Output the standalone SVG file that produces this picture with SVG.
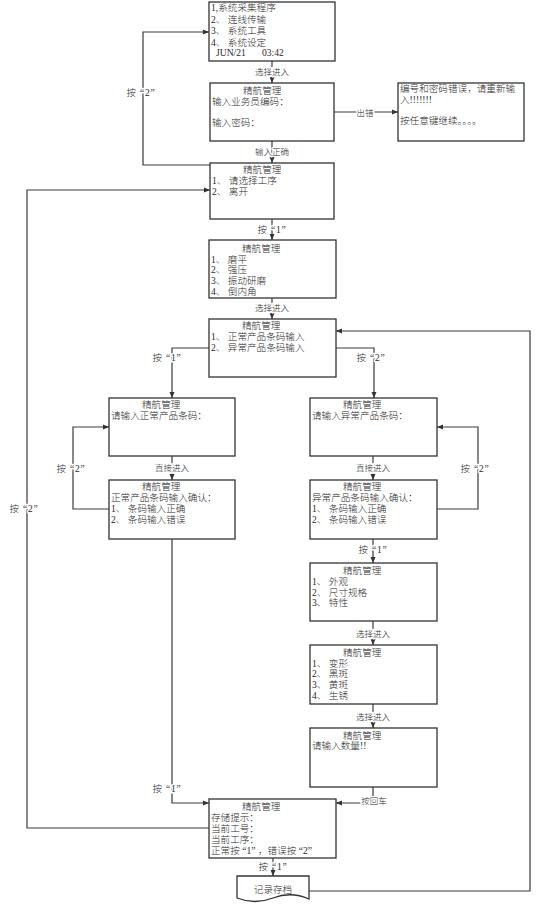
<svg xmlns="http://www.w3.org/2000/svg" width="553" height="908" viewBox="0 0 553 908">
<style>
.box{fill:#fff;stroke:#333;stroke-width:1.3}
.t{font-family:"Liberation Serif","Noto Sans CJK SC",serif;font-size:9.6px;font-weight:300;fill:#2a2a2a}
.ln{fill:none;stroke:#3a3a3a;stroke-width:1.2}
.lbl{font-family:"Liberation Serif","Noto Sans CJK SC",serif;font-size:8.5px;font-weight:300;fill:#2a2a2a;text-anchor:middle;stroke:#fff;stroke-width:3;paint-order:stroke;stroke-linejoin:round}
.k{font-size:9.5px;letter-spacing:0.8px}
</style>
<defs>
<marker id="ah" markerWidth="6" markerHeight="6" refX="6" refY="3" orient="auto" markerUnits="userSpaceOnUse"><path d="M0,0.5 L6,3 L0,5.5 z" fill="#333"/></marker>
</defs>
<rect width="553" height="908" fill="#fff"/>

<g id="connectors">
<path class="ln" d="M272,61 V83" marker-end="url(#ah)"/>
<text class="lbl" x="272" y="74.5">选择进入</text>
<path class="ln" d="M334,112 H398" marker-end="url(#ah)"/>
<text class="lbl" x="365" y="115.5">出错</text>
<path class="ln" d="M272,141 V163" marker-end="url(#ah)"/>
<text class="lbl" x="272" y="154.5">输入正确</text>
<path class="ln" d="M210,165 H143 V32 H209" marker-end="url(#ah)"/>
<text class="lbl k" x="141" y="96">按 “2”</text>
<path class="ln" d="M272,219 V240" marker-end="url(#ah)"/>
<text class="lbl k" x="272" y="232.5">按 “1”</text>
<path class="ln" d="M272,298 V319" marker-end="url(#ah)"/>
<text class="lbl" x="272" y="311">选择进入</text>
<path class="ln" d="M209,348 H172 V398" marker-end="url(#ah)"/>
<text class="lbl k" x="167" y="360.5">按 “1”</text>
<path class="ln" d="M336,348 H374 V398" marker-end="url(#ah)"/>
<text class="lbl k" x="371" y="360.5">按 “2”</text>
<path class="ln" d="M172,456 V480" marker-end="url(#ah)"/>
<text class="lbl" x="172" y="470.5">直接进入</text>
<path class="ln" d="M109,509 H73 V427 H109" marker-end="url(#ah)"/>
<text class="lbl k" x="71" y="471.5">按 “2”</text>
<path class="ln" d="M373,456 V480" marker-end="url(#ah)"/>
<text class="lbl" x="373" y="470.5">直接进入</text>
<path class="ln" d="M437,509 H478 V427 H437" marker-end="url(#ah)"/>
<text class="lbl k" x="475" y="471.5">按 “2”</text>
<path class="ln" d="M373,539 V563" marker-end="url(#ah)"/>
<text class="lbl k" x="373" y="552.5">按 “1”</text>
<path class="ln" d="M373,621 V645" marker-end="url(#ah)"/>
<text class="lbl" x="373" y="636.5">选择进入</text>
<path class="ln" d="M373,704 V728" marker-end="url(#ah)"/>
<text class="lbl" x="373" y="719.5">选择进入</text>
<path class="ln" d="M373,787 V803 H336" marker-end="url(#ah)"/>
<text class="lbl" x="374" y="803.5">按回车</text>
<path class="ln" d="M172,539 V803 H209" marker-end="url(#ah)"/>
<text class="lbl k" x="167" y="791.5">按 “1”</text>
<path class="ln" d="M209,828 H27 V190 H210" marker-end="url(#ah)"/>
<text class="lbl k" x="24" y="512">按 “2”</text>
<path class="ln" d="M273,858 V876" marker-end="url(#ah)"/>
<text class="lbl k" x="273" y="869.5">按 “1”</text>
<path class="ln" d="M309,891 H530 V331 H336" marker-end="url(#ah)"/>
</g>

<g id="n1">
<rect class="box" x="209" y="2" width="126" height="59"/>
<text class="t" x="211" y="11">1,系统采集程序</text>
<text class="t" x="211" y="22.5">2、 连线传输</text>
<text class="t" x="211" y="34">3、 系统工具</text>
<text class="t" x="211" y="45.5">4、 系统设定</text>
<text class="t" x="216" y="56">JUN/21</text>
<text class="t" x="262" y="56">03:42</text>
</g>

<g id="n2">
<rect class="box" x="210" y="83" width="124" height="58"/>
<text class="t" x="243" y="93.5">精航管理</text>
<text class="t" x="212" y="105">输入业务员编码：</text>
<text class="t" x="212" y="126">输入密码：</text>
</g>

<g id="n_err">
<rect class="box" x="398" y="83" width="126" height="58"/>
<text class="t" x="400" y="92">编号和密码错误，请重新输</text>
<text class="t" x="400" y="103">入!!!!!!!</text>
<text class="t" x="400" y="124">按任意键继续。。。。</text>
</g>

<g id="n3">
<rect class="box" x="210" y="163" width="124" height="56"/>
<text class="t" x="243" y="172.5">精航管理</text>
<text class="t" x="212" y="183.5">1、 请选择工序</text>
<text class="t" x="212" y="194.5">2、 离开</text>
</g>

<g id="n4">
<rect class="box" x="209" y="240" width="127" height="58"/>
<text class="t" x="242" y="251.5">精航管理</text>
<text class="t" x="211" y="262.5">1、 磨平</text>
<text class="t" x="211" y="273">2、 强压</text>
<text class="t" x="211" y="283.5">3、 振动研磨</text>
<text class="t" x="211" y="294.5">4、 倒内角</text>
</g>

<g id="n5">
<rect class="box" x="209" y="319" width="127" height="58"/>
<text class="t" x="242" y="329">精航管理</text>
<text class="t" x="211" y="339.5">1、 正常产品条码输入</text>
<text class="t" x="211" y="350.5">2、 异常产品条码输入</text>
</g>

<g id="nA">
<rect class="box" x="109" y="398" width="126" height="58"/>
<text class="t" x="142" y="408">精航管理</text>
<text class="t" x="111" y="418.5">请输入正常产品条码：</text>
</g>

<g id="nB">
<rect class="box" x="109" y="480" width="126" height="59"/>
<text class="t" x="142" y="490">精航管理</text>
<text class="t" x="111" y="501">正常产品条码输入确认：</text>
<text class="t" x="111" y="512">1、 条码输入正确</text>
<text class="t" x="111" y="523">2、 条码输入错误</text>
</g>

<g id="nC">
<rect class="box" x="310" y="398" width="127" height="58"/>
<text class="t" x="343" y="408">精航管理</text>
<text class="t" x="312" y="418.5">请输入异常产品条码：</text>
</g>

<g id="nD">
<rect class="box" x="310" y="480" width="127" height="59"/>
<text class="t" x="343" y="490">精航管理</text>
<text class="t" x="312" y="501">异常产品条码输入确认：</text>
<text class="t" x="312" y="512">1、 条码输入正确</text>
<text class="t" x="312" y="523">2、 条码输入错误</text>
</g>

<g id="nE">
<rect class="box" x="310" y="563" width="127" height="58"/>
<text class="t" x="343" y="574">精航管理</text>
<text class="t" x="312" y="585">1、 外观</text>
<text class="t" x="312" y="595.5">2、 尺寸规格</text>
<text class="t" x="312" y="606">3、 特性</text>
</g>

<g id="nF">
<rect class="box" x="310" y="645" width="127" height="59"/>
<text class="t" x="343" y="655.5">精航管理</text>
<text class="t" x="312" y="666.5">1、 变形</text>
<text class="t" x="312" y="677">2、 黑斑</text>
<text class="t" x="312" y="688">3、 黄斑</text>
<text class="t" x="312" y="698.5">4、 生锈</text>
</g>

<g id="nG">
<rect class="box" x="310" y="728" width="127" height="59"/>
<text class="t" x="343" y="738.5">精航管理</text>
<text class="t" x="312" y="749">请输入数量!!</text>
</g>

<g id="nH">
<rect class="box" x="209" y="799" width="127" height="59"/>
<text class="t" x="242" y="810">精航管理</text>
<text class="t" x="211" y="820.5">存储提示：</text>
<text class="t" x="211" y="831.5">当前工号：</text>
<text class="t" x="211" y="842.5">当前工序：</text>
<text class="t" x="211" y="853.5">正常按 “1” ，错误按 “2”</text>
</g>

<g id="n_doc">
<path class="box" d="M237,876 H309 V899 Q291,891 273,898 Q255,905 237,898 Z"/>
<text class="t" x="273" y="893" font-size="7.8" text-anchor="middle">记录存档</text>
</g>
</svg>
